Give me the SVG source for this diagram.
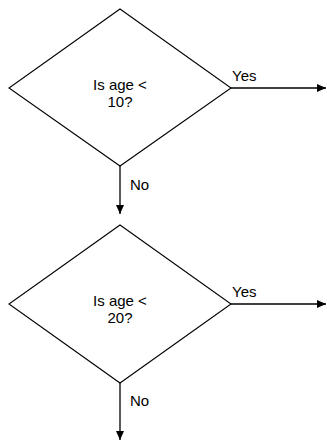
<svg xmlns="http://www.w3.org/2000/svg" width="327" height="441" viewBox="0 0 327 441">
<defs>
<marker id="ah" markerWidth="9" markerHeight="8" refX="9" refY="4" orient="auto" markerUnits="userSpaceOnUse">
<path d="M0,0 L9,4 L0,8 Z" fill="#000"/>
</marker>
<style>
.d{fill:#fff;stroke:#000;stroke-width:1.1}
.c{stroke:#000;stroke-width:1.3;fill:none}
text{font-family:"Liberation Sans",Arial,Helvetica,sans-serif;font-size:15px;fill:#000}
.m{text-anchor:middle}
</style>
</defs>
<rect width="327" height="441" fill="#fff"/>
<g id="connectors">
<line class="c" x1="231" y1="88" x2="326" y2="88" marker-end="url(#ah)"/>
<line class="c" x1="120" y1="166" x2="120" y2="214" marker-end="url(#ah)"/>
<line class="c" x1="231" y1="304" x2="326" y2="304" marker-end="url(#ah)"/>
<line class="c" x1="120" y1="383" x2="120" y2="440" marker-end="url(#ah)"/>
<text x="232" y="81">Yes</text>
<text x="130" y="190">No</text>
<text x="232" y="297">Yes</text>
<text x="130" y="406">No</text>
</g>
<g id="node1">
<polygon class="d" points="120,9 231,88 120,166 9,88"/>
<text class="m" x="120" y="90">Is age &lt;</text>
<text class="m" x="120" y="107">10?</text>
</g>
<g id="node2">
<polygon class="d" points="120,225 231,304 120,383 9,304"/>
<text class="m" x="120" y="306">Is age &lt;</text>
<text class="m" x="120" y="323">20?</text>
</g>
</svg>
